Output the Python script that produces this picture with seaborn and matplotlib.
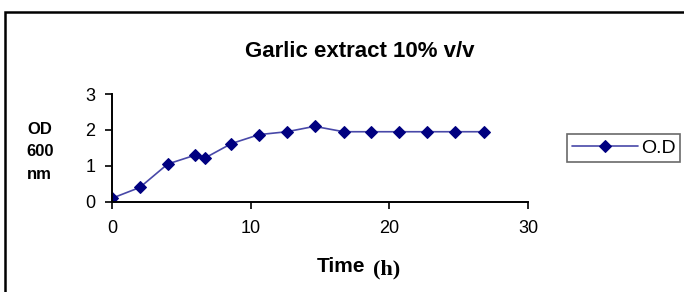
import pandas as pd
import matplotlib.pyplot as plt
import seaborn as sns
from matplotlib.patches import Rectangle

# Growth curve
time_h = [0, 2, 4, 6, 6.7, 8.6, 10.6, 12.6, 14.6, 16.7, 18.7, 20.7, 22.7, 24.7, 26.8]
od_600 = [0.1, 0.4, 1.05, 1.3, 1.22, 1.62, 1.87, 1.95, 2.1, 1.95, 1.95, 1.95, 1.95, 1.95, 1.95]
x_ticks = [0, 10, 20, 30]
y_ticks = [0, 1, 2, 3]

df = pd.DataFrame({'time': time_h, 'od': od_600})

sns.set_theme(style="white")
plt.rcParams['font.family'] = ['Liberation Sans', 'DejaVu Sans']
plt.rcParams['text.color'] = 'black'
plt.rcParams['axes.labelcolor'] = 'black'

fig = plt.figure(figsize=(6.84, 2.92), dpi=100)
ax = fig.add_axes([0.164, 0.309, 0.608, 0.369])

sns.lineplot(data=df, x='time', y='od', ax=ax, color='#4848a8', linewidth=1.2,
             marker='D', markersize=6, markerfacecolor='#000080',
             markeredgecolor='#000080', label='O.D', sort=False)

ax.set_xlim(0, 30)
ax.set_ylim(0, 3)
ax.set_xticks(x_ticks)
ax.set_yticks(y_ticks)
ax.tick_params(axis='both', direction='out', length=5, width=1.2, labelsize=13,
               colors='black', bottom=True, left=True)
ax.tick_params(axis='x', pad=8)
ax.tick_params(axis='y', pad=7)
for side in ['top', 'right']:
    ax.spines[side].set_visible(False)
for side in ['left', 'bottom']:
    ax.spines[side].set_color('black')
    ax.spines[side].set_linewidth(1.4)

ax.set_xlabel('')
ax.set_ylabel('')
fig.text(0.534, 0.086, 'Time', fontsize=15, fontweight='bold', ha='right', va='center')
fig.text(0.546, 0.078, '(h)', fontsize=16, fontweight='bold', ha='left', va='center',
         family=['Liberation Serif', 'DejaVu Serif'])
fig.text(0.058, 0.48, 'OD\n600\nnm', fontsize=12, fontweight='bold', ha='center',
         va='center', linespacing=1.6)
fig.text(0.526, 0.822, 'Garlic extract 10% v/v', fontsize=16, fontweight='bold',
         ha='center', va='center')

leg = ax.legend(loc='center left', bbox_to_anchor=(0.829, 0.493),
                bbox_transform=fig.transFigure, borderaxespad=0, frameon=True,
                fancybox=False, fontsize=14, handlelength=3.4, borderpad=0.25,
                handletextpad=0.15, labelcolor='black')
leg.get_frame().set_edgecolor('#444444')
leg.get_frame().set_linewidth(1.2)

# outer chart frame
fig.patches.append(Rectangle((5 / 684, -0.1), 1.2, 0.1 + 1 - 12 / 292,
                             transform=fig.transFigure, fill=False,
                             edgecolor='black', linewidth=1.8))

fig.savefig('out.png', dpi=100)
